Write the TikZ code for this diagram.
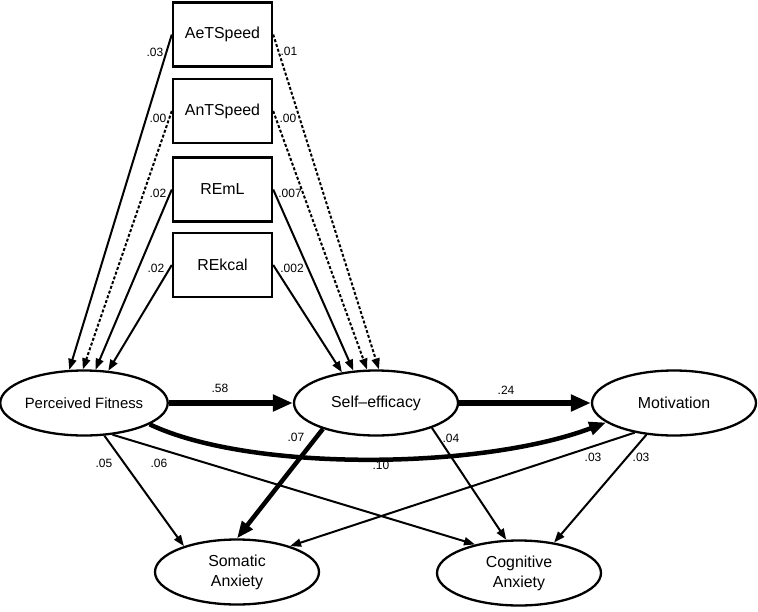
\documentclass[tikz,border=0pt]{standalone}
\usepackage{fontspec}
\setmainfont{Liberation Sans}
\usetikzlibrary{shapes.geometric,arrows.meta}
\begin{document}
\begin{tikzpicture}[x=1pt,y=-1pt,
  varbox/.style={draw,line width=2.4pt,minimum width=99pt,minimum height=64pt,inner sep=0pt,font=\fontsize{15.9}{18}\selectfont},
  latent/.style={draw,ellipse,line width=2.3pt,minimum width=164pt,minimum height=65pt,inner sep=0pt,align=center,font=\fontsize{15.9}{20}\selectfont},
  patharrow/.style={line width=2pt,-{Triangle[length=11pt,width=8pt]}},
  dasharrow/.style={patharrow,dash pattern=on 3pt off 2pt},
  boldarrow/.style={line width=6.5pt,-{Triangle[length=20pt,width=16pt]}},
  midarrow/.style={line width=4.5pt,-{Triangle[length=17pt,width=13pt]}},
  coef/.style={font=\fontsize{12}{14}\selectfont,inner sep=0pt}
]
\useasboundingbox (0,0) rectangle (758,611);

% observed variables
\node[varbox] (aet) at (222.5,34.5) {AeTSpeed};
\node[varbox] (ant) at (222.5,111) {AnTSpeed};
\node[varbox] (reml) at (222.5,189.5) {REmL};
\node[varbox] (rek) at (222.5,265) {REkcal};

% latent variables
\node[latent,font=\fontsize{14.9}{17}\selectfont] (pf) at (84,403) {Perceived Fitness};
\node[latent] (se) at (376,403) {Self–efficacy};
\node[latent] (mot) at (674,403) {Motivation};
\node[latent] (som) at (237,572) {Somatic\\Anxiety};
\node[latent] (cog) at (519,573) {Cognitive\\Anxiety};

% box -> perceived fitness
\draw[patharrow] (aet.west) -- (pf.114);
\draw[dasharrow] (ant.west) -- (pf.92);
\draw[patharrow] (reml.west) -- (pf.71);
\draw[patharrow] (rek.west) -- (pf.53);
% box -> self-efficacy
\draw[dasharrow] (aet.east) -- (se.85);
\draw[dasharrow] (ant.east) -- (se.105);
\draw[patharrow] (reml.east) -- (se.125);
\draw[patharrow] (rek.east) -- (se.138);

% thick paths
\draw[boldarrow] (pf.east) -- (se.west);
\draw[boldarrow] (se.east) -- (mot.west);
\draw[midarrow] (pf.-18) .. controls (250,472) and (480,470) .. (mot.-164);
\draw[midarrow] (se.-154) -- (som.90);

% thin paths to anxiety
\draw[patharrow] (pf.-58) -- (som.154);
\draw[patharrow] (pf.-48) -- (cog.147);
\draw[patharrow] (se.-24) -- (cog.111);
\draw[patharrow] (mot.-143) -- (som.26);
\draw[patharrow] (mot.-131) -- (cog.41);

% coefficients
\node[coef] (c1) at (155,52) {.03};
\node[coef] (c2) at (289,51) {.01};
\node[coef] (c3) at (158,118) {.00};
\node[coef] (c4) at (288,118) {.00};
\node[coef] (c5) at (158,193) {.02};
\node[coef] (c6) at (290,193) {.007};
\node[coef] (c7) at (156,268) {.02};
\node[coef] (c8) at (292,268) {.002};
\node[coef] (c9) at (220,388) {.58};
\node[coef] (c10) at (506,390) {.24};
\node[coef] (c11) at (296,437) {.07};
\node[coef] (c12) at (381,465) {.10};
\node[coef] (c13) at (104,463) {.05};
\node[coef] (c14) at (159,463) {.06};
\node[coef] (c15) at (451,438) {.04};
\node[coef] (c16) at (593,457) {.03};
\node[coef] (c17) at (641,457) {.03};
\end{tikzpicture}
\end{document}
